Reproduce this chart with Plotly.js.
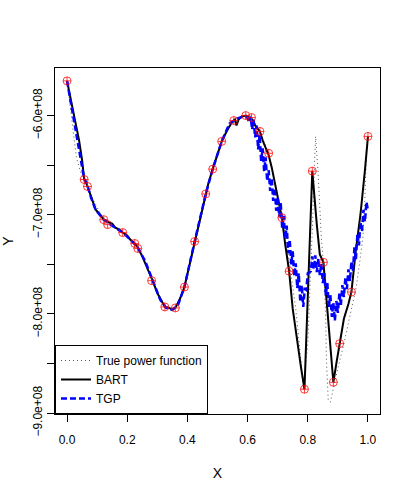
<!DOCTYPE html>
<html>
<head>
<meta charset="utf-8">
<script src="https://cdn.plot.ly/plotly-3.0.1.min.js"></script>
<style>
  html, body { margin: 0; padding: 0; background: #fff; }
  #chart { width: 408px; height: 498px; }
</style>
</head>
<body>
<div id="chart"></div>
<script>
// observed points (red circles)
var obs_x = [0, 0.057, 0.068, 0.122, 0.135, 0.185, 0.225, 0.235, 0.281, 0.325, 0.36, 0.39, 0.424,
  0.461, 0.484, 0.514, 0.554, 0.594, 0.613, 0.641, 0.67, 0.714, 0.738, 0.789, 0.815, 0.852,
  0.885, 0.906, 0.945, 1.0];
var obs_y = [-5.65e8, -6.645e8, -6.715e8, -7.05e8, -7.10e8, -7.18e8, -7.29e8, -7.34e8, -7.665e8,
  -7.93e8, -7.94e8, -7.73e8, -7.27e8, -6.79e8, -6.54e8, -6.26e8, -6.05e8, -6.0e8, -6.02e8,
  -6.16e8, -6.38e8, -7.03e8, -7.57e8, -8.76e8, -6.56e8, -7.48e8, -8.69e8, -8.30e8, -7.78e8, -6.21e8];

// true power function (dotted)
var true_x = [0, 0.005, 0.01, 0.015, 0.02, 0.031, 0.045, 0.057, 0.068, 0.09, 0.122, 0.15, 0.185,
  0.225, 0.25, 0.285, 0.31, 0.34, 0.36, 0.39, 0.424, 0.461, 0.484, 0.514, 0.554, 0.594, 0.613,
  0.641, 0.67, 0.70, 0.72, 0.74, 0.76, 0.775, 0.785, 0.80, 0.81, 0.817, 0.822, 0.826, 0.834,
  0.839, 0.845, 0.851, 0.854, 0.859, 0.862, 0.868, 0.875, 0.88, 0.90, 0.92, 0.94, 0.961, 0.972,
  0.983, 0.989, 0.995, 1.0];
var true_y = [-5.65e8, -5.78e8, -5.92e8, -6.05e8, -6.15e8, -6.42e8, -6.57e8, -6.65e8, -6.72e8,
  -6.87e8, -7.05e8, -7.12e8, -7.18e8, -7.29e8, -7.40e8, -7.67e8, -7.85e8, -7.95e8, -7.94e8,
  -7.73e8, -7.27e8, -6.79e8, -6.54e8, -6.26e8, -6.05e8, -6.0e8, -6.02e8, -6.16e8, -6.38e8,
  -6.82e8, -7.12e8, -7.50e8, -7.95e8, -8.40e8, -8.76e8, -8.30e8, -7.60e8, -7.00e8, -6.50e8,
  -6.21e8, -6.56e8, -6.89e8, -7.23e8, -7.46e8, -7.63e8, -7.96e8, -8.47e8, -8.87e8, -8.89e8,
  -8.82e8, -8.55e8, -8.30e8, -8.02e8, -7.73e8, -7.49e8, -7.23e8, -6.89e8, -6.38e8, -6.21e8];

// BART fit (solid black)
var bart_x = [0, 0.01, 0.02, 0.03, 0.04, 0.05, 0.057, 0.062, 0.068, 0.08, 0.095, 0.11, 0.122,
  0.13, 0.14, 0.15, 0.16, 0.175, 0.185, 0.2, 0.21, 0.225, 0.235, 0.25, 0.265, 0.285, 0.3, 0.315,
  0.325, 0.34, 0.35, 0.36, 0.375, 0.39, 0.41, 0.424, 0.44, 0.461, 0.47, 0.484, 0.5, 0.514, 0.53,
  0.545, 0.554, 0.558, 0.563, 0.57, 0.58, 0.594, 0.605, 0.613, 0.625, 0.641, 0.65, 0.66, 0.67,
  0.68, 0.692, 0.70, 0.714, 0.725, 0.738, 0.75, 0.765, 0.778, 0.789, 0.815, 0.83, 0.84, 0.852,
  0.868, 0.885, 0.895, 0.906, 0.92, 0.935, 0.945, 0.96, 0.975, 0.99, 1.0];
var bart_y = [-5.65e8, -5.80e8, -5.98e8, -6.12e8, -6.25e8, -6.45e8, -6.64e8, -6.66e8, -6.71e8,
  -6.82e8, -6.95e8, -7.00e8, -7.05e8, -7.06e8, -7.08e8, -7.09e8, -7.13e8, -7.15e8, -7.18e8,
  -7.21e8, -7.25e8, -7.29e8, -7.33e8, -7.42e8, -7.52e8, -7.67e8, -7.79e8, -7.88e8, -7.93e8,
  -7.94e8, -7.96e8, -7.94e8, -7.85e8, -7.73e8, -7.47e8, -7.27e8, -7.06e8, -6.79e8, -6.68e8,
  -6.54e8, -6.40e8, -6.26e8, -6.16e8, -6.08e8, -6.05e8, -6.04e8, -6.10e8, -6.04e8, -6.01e8,
  -6.0e8, -6.02e8, -6.03e8, -6.10e8, -6.16e8, -6.25e8, -6.33e8, -6.40e8, -6.52e8, -6.69e8,
  -6.80e8, -7.03e8, -7.30e8, -7.57e8, -7.95e8, -8.30e8, -8.55e8, -8.76e8, -6.56e8, -7.10e8,
  -7.40e8, -7.48e8, -8.10e8, -8.69e8, -8.50e8, -8.30e8, -8.05e8, -7.90e8, -7.78e8,
  -7.35e8, -7.00e8, -6.55e8, -6.21e8];

// TGP fit (blue dashed)
var tgp_x = [0, 0.01, 0.02, 0.03, 0.04, 0.05, 0.057, 0.068, 0.08, 0.095, 0.11, 0.122, 0.14,
  0.16, 0.185, 0.21, 0.235, 0.26, 0.285, 0.31, 0.33, 0.35, 0.37, 0.39, 0.424, 0.461, 0.484,
  0.514, 0.54, 0.565, 0.585, 0.6, 0.605, 0.61, 0.615, 0.62, 0.625, 0.63, 0.635, 0.64, 0.645,
  0.65, 0.655, 0.66, 0.665, 0.67, 0.675, 0.68, 0.685, 0.69, 0.695, 0.7, 0.705, 0.71, 0.715,
  0.72, 0.725, 0.73, 0.735, 0.74, 0.745, 0.75, 0.755, 0.76, 0.765, 0.77, 0.775, 0.78, 0.785,
  0.79, 0.795, 0.8, 0.805, 0.81, 0.815, 0.82, 0.825, 0.83, 0.835, 0.84, 0.845, 0.85, 0.855,
  0.86, 0.865, 0.87, 0.875, 0.88, 0.885, 0.89, 0.895, 0.9, 0.905, 0.91, 0.915, 0.92, 0.925,
  0.93, 0.935, 0.94, 0.945, 0.95, 0.955, 0.96, 0.965, 0.97, 0.975, 0.98, 0.985, 0.99, 0.995, 1.0];
var tgp_y = [-5.65e8, -5.82e8, -6.00e8, -6.18e8, -6.35e8, -6.52e8, -6.64e8, -6.71e8, -6.83e8,
  -6.95e8, -7.01e8, -7.05e8, -7.09e8, -7.13e8, -7.18e8, -7.25e8, -7.33e8, -7.47e8, -7.67e8,
  -7.86e8, -7.94e8, -7.96e8, -7.90e8, -7.73e8, -7.27e8, -6.79e8, -6.54e8, -6.26e8, -6.08e8,
  -6.03e8, -6.01e8, -6.02e8, -6.07e8, -6.01e8, -6.14e8, -6.04e8, -6.22e8, -6.10e8, -6.34e8,
  -6.19e8, -6.46e8, -6.33e8, -6.56e8, -6.42e8, -6.66e8, -6.55e8, -6.76e8, -6.63e8, -6.86e8,
  -6.73e8, -6.96e8, -6.82e8, -7.02e8, -6.87e8, -7.14e8, -7.01e8, -7.24e8, -7.11e8, -7.39e8,
  -7.25e8, -7.50e8, -7.37e8, -7.62e8, -7.49e8, -7.74e8, -7.59e8, -7.88e8, -7.71e8, -7.93e8,
  -7.75e8, -7.76e8, -7.59e8, -7.58e8, -7.57e8, -7.42e8, -7.55e8, -7.41e8, -7.58e8, -7.44e8,
  -7.61e8, -7.49e8, -7.69e8, -7.59e8, -7.81e8, -7.69e8, -7.93e8, -7.81e8, -8.03e8, -7.89e8,
  -8.07e8, -7.87e8, -7.99e8, -7.79e8, -7.91e8, -7.71e8, -7.83e8, -7.63e8, -7.75e8, -7.55e8,
  -7.67e8, -7.47e8, -7.57e8, -7.33e8, -7.45e8, -7.19e8, -7.31e8, -7.07e8, -7.17e8, -6.95e8,
  -7.07e8, -6.87e8, -6.96e8];

var x_ticks = [0, 0.2, 0.4, 0.6, 0.8, 1.0];
var x_labels = ["0.0", "0.2", "0.4", "0.6", "0.8", "1.0"];
var y_ticks = [-9.0e8, -8.5e8, -8.0e8, -7.5e8, -7.0e8, -6.5e8, -6.0e8];
var y_labels = ["\u22129.0e+08", "", "\u22128.0e+08", "", "\u22127.0e+08", "", "\u22126.0e+08"];

var traces = [
  {x: true_x, y: true_y, type: "scatter", mode: "lines", name: "True power function",
   line: {color: "#555555", width: 1, dash: "1px,3px"}},
  {x: bart_x, y: bart_y, type: "scatter", mode: "lines", name: "BART",
   line: {color: "#000000", width: 2}},
  {x: tgp_x, y: tgp_y, type: "scatter", mode: "lines", name: "TGP",
   line: {color: "#0000ff", width: 2.5, dash: "6px,3px"}},
  {x: obs_x, y: obs_y, type: "scatter", mode: "markers", showlegend: false,
   marker: {symbol: "circle-cross-open", size: 8, color: "rgba(255,0,0,0.75)", line: {width: 1}}}
];

var layout = {
  width: 408, height: 498,
  margin: {l: 55, r: 28, t: 68, b: 84},
  paper_bgcolor: "#fff", plot_bgcolor: "#fff",
  font: {family: "Liberation Sans, Arial, sans-serif", size: 12, color: "#000"},
  showlegend: true,
  legend: {x: 0, y: 0, xanchor: "left", yanchor: "bottom", bgcolor: "#fff",
    bordercolor: "#000", borderwidth: 1, itemwidth: 30, font: {size: 12},
    tracegroupgap: 0},
  xaxis: {range: [-0.04, 1.04], tickvals: x_ticks, ticktext: x_labels,
    showgrid: false, zeroline: false, showline: true, mirror: true, linecolor: "#000",
    ticks: "outside", ticklen: 7, tickcolor: "#000", ticklabelstandoff: 8,
    title: {text: "X", standoff: 21}},
  yaxis: {range: [-9.01e8, -5.52e8], tickvals: y_ticks, ticktext: y_labels, tickangle: -90,
    showgrid: false, zeroline: false, showline: true, mirror: true, linecolor: "#000",
    ticks: "outside", ticklen: 7, tickcolor: "#000",
    title: {text: "Y", standoff: 14}}
};

Plotly.newPlot("chart", traces, layout, {displayModeBar: false, staticPlot: true});
</script>
</body>
</html>
